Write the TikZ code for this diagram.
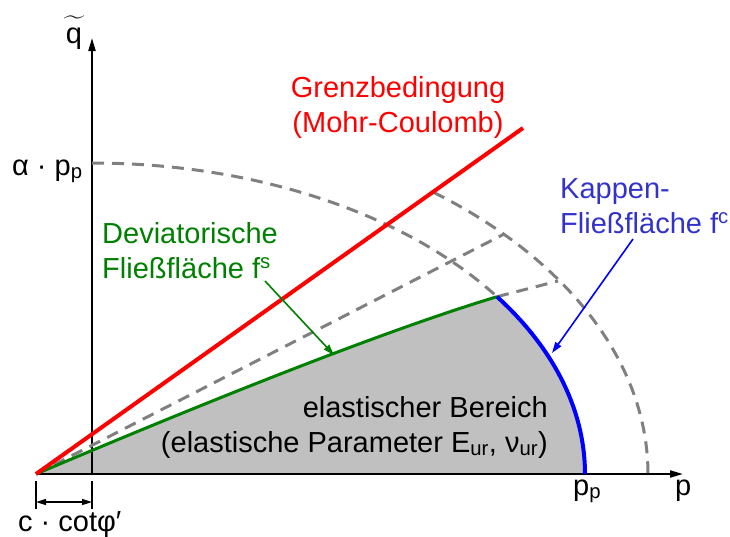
\documentclass[tikz,border=0pt]{standalone}
\usepackage{graphicx}
\usepackage{amsmath}
\usepackage{fontspec}
\setmainfont{Liberation Sans}
\usetikzlibrary{arrows.meta}
\definecolor{mcred}{RGB}{255,0,0}
\definecolor{capblue}{RGB}{0,0,255}
\definecolor{captext}{RGB}{51,51,204}
\definecolor{devgreen}{RGB}{0,128,0}
\definecolor{dashgray}{RGB}{128,128,128}
\definecolor{fillgray}{RGB}{192,192,192}
\newcommand{\qtilde}{\ooalign{q\cr\hidewidth\raisebox{0.15em}{\scalebox{0.8}[1]{$\widetilde{\mbox{\hspace{1em}\vphantom{x}}}$}}\hidewidth\cr}}
\tikzset{
  lbl/.style={font=\fontsize{29}{35}\selectfont, inner sep=0pt},
  axisline/.style={line width=2pt, -{Triangle[length=13pt,width=7pt]}},
  dashcurve/.style={dashgray, line width=3pt, dash pattern=on 12pt off 8pt},
  ptr/.style={line width=1.6pt, -{Triangle[length=11pt,width=7pt]}},
  dimline/.style={line width=1.5pt},
}
\begin{document}
\begin{tikzpicture}[x=1pt,y=-1pt]
\useasboundingbox (0,0) rectangle (730,536);
% key points
\coordinate (A) at (36,474);
\coordinate (O) at (92,474);
\coordinate (Qtip) at (92,38);
\coordinate (Ptip) at (683,474);
\coordinate (MCend) at (523,128);
\coordinate (J) at ({92+493*cos(34.76)},{474-311*sin(34.76)});
\coordinate (Mid) at ({92+556*cos(42.2)},{474-357*sin(42.2)});
\coordinate (Gext) at (558,281);
% elastic region
\fill[fillgray] (A) .. controls (245.3,385.3) and (399,326.3) .. (J)
  -- plot[domain=34.76:0,samples=50] ({92+493*cos(\x)},{474-311*sin(\x)}) -- cycle;
% axes
\draw[axisline] (O) -- (Qtip);
\draw[axisline] (A) -- (Ptip);
% dashed curves
\draw[dashcurve] plot[domain=90:34.76,samples=80] ({92+493*cos(\x)},{474-311*sin(\x)});
\draw[dashcurve] plot[domain=52.1:0,samples=80] ({92+556*cos(\x)},{474-357*sin(\x)});
\draw[dashcurve] (A) -- (Mid);
\draw[dashcurve] (J) -- (Gext);
% deviatoric yield surface
\draw[devgreen, line width=3pt] (A) .. controls (245.3,385.3) and (399,326.3) .. (J);
% cap
\draw[capblue, line width=4pt] plot[domain=34.76:0,samples=50] ({92+493*cos(\x)},{474-311*sin(\x)});
% Mohr-Coulomb
\draw[mcred, line width=4pt] (A) -- (MCend);
% dimension
\coordinate (T1a) at (36,481); \coordinate (T1b) at (36,509);
\coordinate (T2a) at (92,481); \coordinate (T2b) at (92,509);
\coordinate (D1) at (36,502); \coordinate (D2) at (92,502);
\draw[dimline] (T1a) -- (T1b);
\draw[dimline] (T2a) -- (T2b);
\draw[dimline, {Triangle[length=10pt,width=6pt]}-{Triangle[length=10pt,width=6pt]}] (D1) -- (D2);
% labels
\node[lbl, anchor=base] (qlbl) at (74,43) {\qtilde};
\node[lbl, anchor=base west] (alpp) at (12,175) {α · p\textsubscript{p}};
\node[lbl, anchor=base west] (pplbl) at (573,495) {p\textsubscript{p}};
\node[lbl, anchor=base west] (plbl) at (675,495) {p};
\node[lbl, anchor=base west] (cot) at (18,531) {c · cotφ′};
\node[lbl, anchor=base, text=mcred] (mc1) at (398,97) {Grenzbedingung};
\node[lbl, anchor=base, text=mcred] (mc2) at (398,132) {(Mohr-Coulomb)};
\node[lbl, anchor=base west, text=captext] (cap1) at (560,198) {Kappen-};
\node[lbl, anchor=base west, text=captext] (cap2) at (560,233) {Fließfläche f\textsuperscript{c}};
\node[lbl, anchor=base west, text=devgreen] (dev1) at (102,243) {Deviatorische};
\node[lbl, anchor=base west, text=devgreen] (dev2) at (102,278) {Fließfläche f\textsuperscript{s}};
\node[lbl, anchor=base east] (el1) at (548,417) {elastischer Bereich};
\node[lbl, anchor=base east] (el2) at (548,452) {(elastische Parameter E\textsubscript{ur}, ν\textsubscript{ur})};
% pointers
\coordinate (bs) at (633,239);
\coordinate (be) at (552,353);
\coordinate (gs) at (265,281);
\coordinate (ge) at (334,355);
\draw[ptr, capblue] (bs) -- (be);
\draw[ptr, devgreen] (gs) -- (ge);
\end{tikzpicture}
\end{document}
